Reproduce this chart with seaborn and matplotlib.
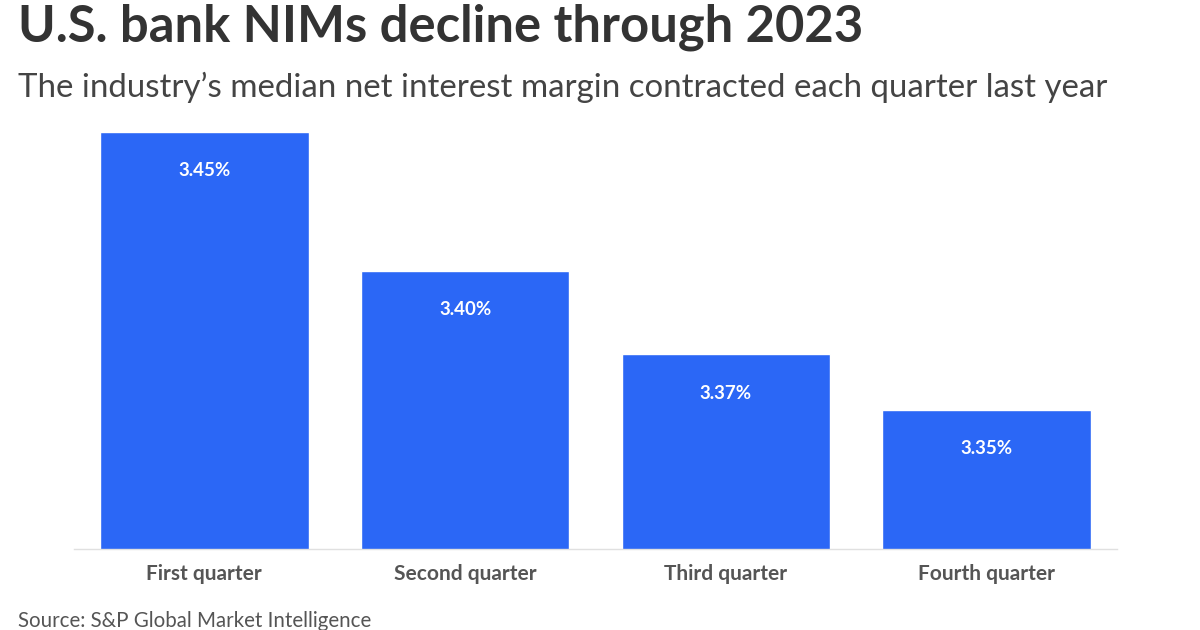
import numpy as np
import pandas as pd
import matplotlib
matplotlib.use("Agg")
import matplotlib.pyplot as plt
import seaborn as sns

#%% Data

quarters = ['First quarter', 'Second quarter', 'Third quarter', 'Fourth quarter']
nim = [3.45, 3.40, 3.37, 3.35]
value_labels = ['3.45%', '3.40%', '3.37%', '3.35%']

df = pd.DataFrame({'quarter': quarters, 'nim': nim})

#%% Plot

sns.set_theme(style='white')
plt.rcParams['font.family'] = ['Lato', 'DejaVu Sans']

fig = plt.figure(figsize=(12, 6.3), dpi=100)
ax = fig.add_axes([74/1200, 81/630, 1043/1200, 424/630])

sns.barplot(data=df, x='quarter', y='nim', color='#2B67F6', saturation=1,
            width=0.8, ax=ax)

ax.set_ylim(3.30, 3.30 + 424/2780)
ax.set_xlim(-0.5, 3.5)
ax.set_xlabel('')
ax.set_ylabel('')
ax.set_yticks([])
for s in ['top', 'right', 'left']:
    ax.spines[s].set_visible(False)
ax.spines['bottom'].set_color('#e0e0e0')
ax.spines['bottom'].set_linewidth(1)
ax.tick_params(axis='x', length=5, width=1, color='#e6e6e6', pad=6,
               labelsize=15, labelcolor='#555555')
for t in ax.get_xticklabels():
    t.set_fontweight('bold')

# value labels inside the bars
for i, p in enumerate(ax.patches):
    ax.annotate(value_labels[i], (p.get_x() + p.get_width()/2, p.get_height()),
                xytext=(0, -28), textcoords='offset points', ha='center', va='center',
                color='white', fontsize=13.5, fontweight='bold')

fig.text(18/1200, 1 - 27/630, 'U.S. bank NIMs decline through 2023', fontsize=36.5,
         fontweight='bold', color='#333333', va='center', ha='left')
fig.text(18/1200, 1 - 87/630,
         'The industry\u2019s median net interest margin contracted each quarter last year',
         fontsize=23.8, color='#444444', va='center', ha='left')
fig.text(18/1200, 1 - 621/630, 'Source: S&P Global Market Intelligence', fontsize=14.8,
         color='#555555', va='center', ha='left')

plt.savefig('out.png', dpi=100)
